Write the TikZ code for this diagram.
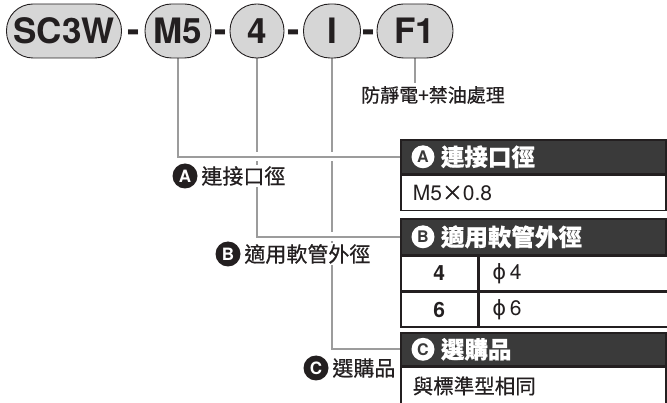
\documentclass[tikz,border=0pt]{standalone}
\usepackage{fontspec}
\setmainfont{TeX Gyre Heros}
\newfontfamily\cjk[FakeBold=0.6]{Noto Sans CJK TC}
\newfontfamily\symf{DejaVu Sans}
\usetikzlibrary{positioning, calc}

\definecolor{pillgray}{HTML}{D6D6D6}
\definecolor{leadgray}{HTML}{9C9C9C}
\definecolor{headdark}{HTML}{3A3A3A}
\definecolor{inkdark}{HTML}{231F20}

\pgfdeclarelayer{bg}
\pgfsetlayers{bg,main}

\begin{document}
\begin{tikzpicture}[x=1pt, y=-1pt, text=inkdark,
    pill/.style={rectangle, rounded corners=26.5pt, draw=inkdark, line width=0.9pt, fill=pillgray,
      minimum height=54pt, inner sep=0pt, font=\bfseries\fontsize{35}{35}\selectfont},
    dashmark/.style={anchor=base, inner sep=0pt, font=\bfseries\fontsize{37}{37}\selectfont},
    lead/.style={draw=leadgray, line width=2.4pt},
    gapped/.style={preaction={draw=white, line width=9pt}},
    lcirc/.style={circle, fill=inkdark, text=white, minimum size=25pt, inner sep=0pt,
      font=\bfseries\fontsize{17}{17}\selectfont},
    ltext/.style={fill=white, inner sep=1.5pt, font=\cjk\fontsize{21}{25}\selectfont},
    hdr/.style={draw=inkdark, line width=1.6pt, fill=headdark, minimum width=265pt,
      inner sep=0pt},
    hcirc/.style={circle, fill=white, text=headdark, minimum size=23pt, inner sep=0pt,
      font=\bfseries\fontsize{16}{16}\selectfont},
    htext/.style={text=white, inner sep=0pt, font=\cjk\bfseries\fontsize{23.5}{28}\selectfont},
    cell/.style={draw=inkdark, line width=1.6pt, fill=white, inner sep=0pt,
      font=\fontsize{21}{24}\selectfont},
    wide/.style={cell, text width=241pt, inner xsep=12pt, align=left}]
  \useasboundingbox (0,0) rectangle (667,403);

  % part number
  \node[pill, minimum width=115pt] (sc) at (64,31) {SC3W};
  \node[pill, minimum width=66pt] (m5) at (178,31) {M5};
  \node[pill, minimum width=54pt] (dia) at (257,31) {4};
  \node[pill, minimum width=57pt] (opt) at (332,31) {I};
  \node[pill, minimum width=76pt] (f1) at (415,31) {F1};
  \foreach \a/\b in {sc/m5, m5/dia, dia/opt, opt/f1}
    \node[dashmark] at ($(\a.east)!0.5!(\b.west)+(0,12)$) {-};

  \node[font=\cjk\fontsize{19}{22}\selectfont] (note) at (433,95) {防靜電+禁油處理};

  % tables
  \node[hdr, minimum height=34pt, anchor=north west] (hA) at (400,139) {};
  \node[wide, minimum height=35pt, anchor=north west] (bA) at (hA.south west)
    {M5{\cjk ×}0.8};

  \node[hdr, minimum height=36pt, anchor=north west] (hB) at (400,218) {};
  \node[cell, minimum width=77pt, minimum height=34pt, anchor=north west, font=\bfseries\fontsize{21}{24}\selectfont]
    (b1a) at (hB.south west) {4};
  \node[cell, text width=175pt, inner xsep=13pt, align=left, minimum height=34pt, anchor=north west]
    (b1b) at (b1a.north east) {{\symf ϕ}\,4};
  \node[cell, minimum width=77pt, minimum height=35pt, anchor=north west, font=\bfseries\fontsize{21}{24}\selectfont]
    (b2a) at (b1a.south west) {6};
  \node[cell, text width=175pt, inner xsep=13pt, align=left, minimum height=35pt, anchor=north west]
    (b2b) at (b2a.north east) {{\symf ϕ}\,6};

  \node[hdr, minimum height=33pt, anchor=north west] (hC) at (400,332) {};
  \node[wide, minimum height=37pt, anchor=north west, font=\cjk\fontsize{20.5}{24}\selectfont]
    (bC) at (hC.south west) {與標準型相同};

  \node[hcirc] (hAc) at ($(hA.west)+(23,0)$) {A};
  \node[htext, right=6pt of hAc] {連接口徑};
  \node[hcirc] (hBc) at ($(hB.west)+(23,0)$) {B};
  \node[htext, right=6pt of hBc] {適用軟管外徑};
  \node[hcirc] (hCc) at ($(hC.west)+(23,0)$) {C};
  \node[htext, right=6pt of hCc] {選購品};

  % leaders
  \begin{pgfonlayer}{bg}
    \draw[lead] (opt.south) |- (hC.west);
    \draw[lead, gapped] (dia.south) |- (hB.west);
    \draw[lead, gapped] (m5.south) |- (hA.west);
    \draw[lead] (f1.south) -- (f1.south |- note.north);
  \end{pgfonlayer}

  \node[lcirc] (la) at (185,176) {A};
  \node[ltext, right=2pt of la] {連接口徑};
  \node[lcirc] (lb) at (228,254) {B};
  \node[ltext, right=2pt of lb] {適用軟管外徑};
  \node[lcirc] (lc) at (316,368) {C};
  \node[ltext, right=2pt of lc] {選購品};
\end{tikzpicture}
\end{document}
